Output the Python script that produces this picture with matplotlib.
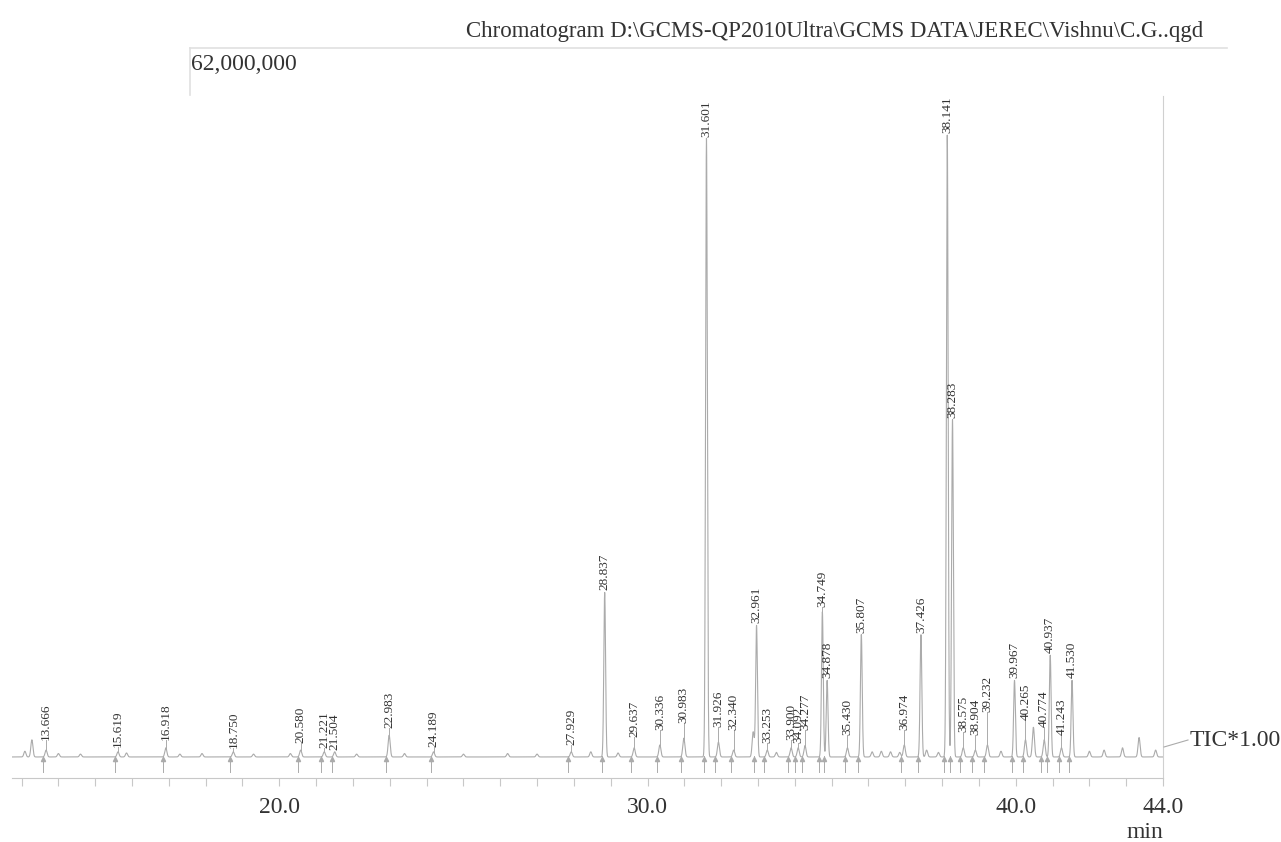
import matplotlib
matplotlib.use("Agg")
import matplotlib.pyplot as plt
import numpy as np
from matplotlib.lines import Line2D

# peak table (retention time in min, heights in millions of counts)
peak_rt = [13.666, 15.619, 16.918, 18.750, 20.580, 21.221, 21.504, 22.983, 24.189,
           27.929, 28.837, 29.637, 30.336, 30.983, 31.601, 31.926, 32.340, 32.961,
           33.253, 33.900, 34.092, 34.277, 34.749, 34.878, 35.430, 35.807, 36.974,
           37.426, 38.141, 38.283, 38.575, 38.904, 39.232, 39.967, 40.265, 40.774,
           40.937, 41.243, 41.530]
peak_height = [0.6, 0.45, 0.8, 0.45, 0.6, 0.45, 0.45, 1.9, 0.45,
               0.45, 14.4, 0.8, 1.05, 1.3, 54.1, 1.3, 0.6, 11.5,
               0.6, 0.8, 0.8, 1.0, 12.7, 6.7, 0.8, 10.7, 1.05,
               10.7, 54.4, 29.5, 0.8, 0.6, 1.05, 6.7, 1.5, 1.5,
               8.9, 0.8, 6.7]
label_height = [1.5, 0.9, 1.5, 0.8, 1.2, 0.8, 0.6, 2.5, 0.9,
                1.05, 14.6, 1.75, 2.35, 3.0, 54.2, 2.6, 2.35, 11.7,
                1.2, 1.5, 1.2, 2.35, 13.1, 6.9, 1.9, 10.8, 2.35,
                10.8, 54.6, 29.6, 2.2, 1.9, 3.9, 6.9, 3.2, 2.6,
                9.1, 1.9, 6.9]

# unlabeled small bumps on the baseline
minor_rt = [13.09, 13.28, 14.0, 14.6, 15.85, 17.3, 17.9, 19.3, 20.3, 22.1, 23.4,
            25.0, 26.2, 27.0, 28.46, 29.2, 31.0, 32.87, 33.5, 36.1, 36.35, 36.6,
            36.85, 37.58, 37.9, 39.6, 40.48, 42.0, 42.4, 42.9, 43.35, 43.8]
minor_height = [0.5, 1.5, 0.3, 0.25, 0.35, 0.25, 0.3, 0.25, 0.3, 0.25, 0.3,
                0.25, 0.3, 0.25, 0.45, 0.35, 0.4, 2.2, 0.4, 0.45, 0.5, 0.45,
                0.4, 0.6, 0.4, 0.5, 2.6, 0.5, 0.6, 0.8, 1.7, 0.6]

x_min, x_max = 12.74, 44.0
y_min, y_max = -1.84, 62.0
major_ticks = [20.0, 30.0, 40.0, 44.0]

trace_col = "#ababab"
text_col = "#333333"
serif = ["Liberation Serif", "DejaVu Serif"]

fig = plt.figure(figsize=(12.81, 8.42), dpi=100)
ax = fig.add_axes([12 / 1281, 64 / 842, (1163 - 12) / 1281, (778 - 48) / 842])

t = np.linspace(x_min, x_max, 16000)
sig = np.zeros_like(t)
for rt, h in zip(peak_rt + minor_rt, peak_height + minor_height):
    w = 0.024 if h > 5 else 0.028
    sig += h * np.exp(-0.5 * ((t - rt) / w) ** 2)
ax.plot(t, sig, color=trace_col, lw=0.8)

# peak labels, with a connector when the label sits above the apex
for rt, h, lh in zip(peak_rt, peak_height, label_height):
    if lh - h > 0.3:
        ax.plot([rt, rt], [h, lh], color=trace_col, lw=0.7)
    ax.text(rt, lh, "%.3f" % rt, rotation=90, ha="center", va="bottom",
            fontsize=9.5, color=text_col, family=serif)
    # integration start markers
    ax.plot([rt - 0.08, rt - 0.08], [-1.3, 0.1], color=trace_col, lw=0.7)
    ax.plot(rt - 0.08, -0.15, marker="^", ms=3, color=trace_col, mec=trace_col)

ax.set_xlim(x_min, x_max)
ax.set_ylim(y_min, y_max)
ax.set_yticks([])
ax.set_xticks(major_ticks)
ax.set_xticklabels(["%.1f" % v for v in major_ticks], family=serif, fontsize=17, color=text_col)
ax.set_xticks(np.arange(13, 44), minor=True)
ax.tick_params(axis="x", which="both", direction="out", length=6, width=0.8,
               color="#c8c8c8", pad=8)
for s in ["top", "left"]:
    ax.spines[s].set_visible(False)
ax.spines["bottom"].set_color("#c8c8c8")
ax.spines["right"].set_color("#d0d0d0")
ax.spines["right"].set_bounds(y_min, 57.8)
ax.patch.set_alpha(0)

# header frame bits
fig.add_artist(Line2D([190 / 1281, 1227 / 1281], [1 - 48 / 842, 1 - 48 / 842],
                      color="#e0e0e0", lw=1.2))
fig.add_artist(Line2D([190 / 1281, 190 / 1281], [1 - 48 / 842, 1 - 95 / 842],
                      color="#e0e0e0", lw=1.2))
fig.add_artist(Line2D([1164 / 1281, 1188 / 1281], [1 - 747 / 842, 1 - 740 / 842],
                      color=trace_col, lw=0.8))

fig.text(1203 / 1281, 1 - 31 / 842,
         "Chromatogram D:\\GCMS-QP2010Ultra\\GCMS DATA\\JEREC\\Vishnu\\C.G..qgd",
         ha="right", va="center", fontsize=16.5, color=text_col, family=serif)
fig.text(191 / 1281, 1 - 65 / 842, "62,000,000", ha="left", va="center",
         fontsize=17, color=text_col, family=serif)
fig.text(1190 / 1281, 1 - 740 / 842, "TIC*1.00", ha="left", va="center",
         fontsize=17, color=text_col, family=serif)
fig.text(1163 / 1281, 1 - 833 / 842, "min", ha="right", va="center",
         fontsize=17, color=text_col, family=serif)

fig.savefig("out.png", dpi=100)
